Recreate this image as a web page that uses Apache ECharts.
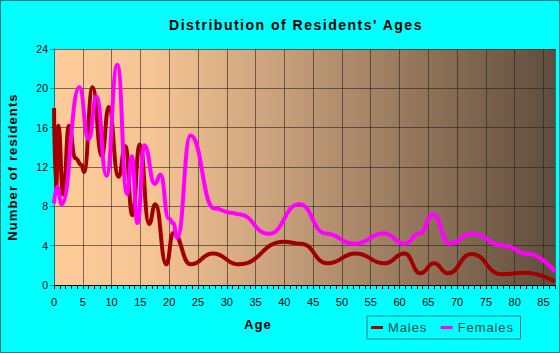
<!DOCTYPE html>
<html>
<head>
<meta charset="utf-8">
<script src="https://cdn.jsdelivr.net/npm/echarts@6/dist/echarts.min.js"></script>
<style>
html,body{margin:0;padding:0;background:#00FFFF;}
#chart{width:560px;height:353px;}
</style>
</head>
<body>
<div id="chart"></div>
<script>
// Data
const maleAge = [0, 0.35, 0.75, 1.6, 2.6, 3.7, 4.8, 5.2, 6.7, 8.3, 9.5, 11.2, 12.4, 13.6, 14.9, 16.5, 17.6, 19.5, 20.7, 23.7, 27.6, 32.1, 39.9, 42.9, 47.5, 52.4, 57.4, 60.9, 63.6, 66, 68.4, 72.5, 77.7, 81.8, 87];
const maleCount = [18, 9.5, 16.2, 9.2, 16.2, 12.9, 12.2, 11.5, 20.1, 13.1, 18.1, 11, 14.1, 7.1, 14.3, 6.2, 8.2, 2.1, 5.3, 2.1, 3.2, 2.1, 4.4, 4.2, 2.2, 3.2, 2.2, 3.2, 1.2, 2.2, 1.2, 3.15, 1.1, 1.25, 0.35];
const femaleAge = [0, 0.57, 1.34, 4.4, 6.0, 7.4, 9.1, 11.0, 12.7, 13.5, 14.5, 15.7, 17.5, 18.5, 19.9, 20.7, 21.4, 23.7, 27.8, 30.7, 32.1, 37.3, 42.6, 47.2, 52.1, 57.4, 60.9, 63.5, 65.8, 68.7, 72.5, 78.3, 82.1, 87];
const femaleCount = [8.3, 10, 8.2, 20.1, 14.8, 19.2, 11.1, 22.4, 9.25, 13.1, 6.3, 14.2, 10.3, 11.2, 6.8, 6.3, 4.8, 15.2, 7.8, 7.35, 7.2, 5.2, 8.2, 5.25, 4.2, 5.25, 4.2, 5.25, 7.2, 4.2, 5.2, 4, 3.2, 1.35];
const seriesNames = ['Males', 'Females'];
const titleText = "Distribution of Residents' Ages";
const xName = 'Age';
const yName = 'Number of residents';

const FONT = '"Liberation Sans", Arial, sans-serif';
const gridLine = 'rgba(40,35,30,0.6)';

const chart = echarts.init(document.getElementById('chart'), null, {renderer: 'svg'});
const option = {
  backgroundColor: '#00FFFF',
  animation: false,
  title: {
    text: titleText, left: 291, top: 13, textAlign: 'center',
    textStyle: {fontFamily: FONT, fontSize: 14, fontWeight: 'bold', color: '#000'}
  },
  legend: {
    data: seriesNames, left: 367, top: 316, orient: 'horizontal',
    padding: [4, 13, 4, 4], itemGap: 18, itemWidth: 12, itemHeight: 3, icon: 'rect',
    borderColor: '#008080', borderWidth: 1,
    textStyle: {fontFamily: FONT, fontSize: 13, color: '#0d4a4a', lineHeight: 15}
  },
  graphic: [{
    type: 'rect', shape: {x: 0.5, y: 0.5, width: 559, height: 352},
    style: {fill: 'none', stroke: '#008080', lineWidth: 1}, z: 100, silent: true
  }],
  grid: {
    left: 54, right: 5, top: 49, bottom: 68, show: true, borderWidth: 0,
    containLabel: false, outerBoundsMode: 'none',
    backgroundColor: {
      type: 'linear', x: 0, y: 0, x2: 1, y2: 0,
      colorStops: [
        {offset: 0, color: '#FFCC99'},
        {offset: 0.2, color: '#F5C493'},
        {offset: 0.45, color: '#C8A07C'},
        {offset: 0.7, color: '#98795D'},
        {offset: 1, color: '#5E4D3D'}
      ]
    }
  },
  xAxis: [{
    type: 'value', min: 0, max: 87, interval: 5,
    axisLine: {show: true, lineStyle: {color: '#000', width: 1}},
    axisTick: {show: false},
    axisLabel: {margin: 11, fontFamily: FONT, fontSize: 11, color: '#000', showMaxLabel: false},
    splitLine: {show: true, lineStyle: {color: gridLine, width: 1}},
    name: xName, nameLocation: 'middle', nameGap: 33,
    nameTextStyle: {fontFamily: FONT, fontSize: 13, fontWeight: 'bold', color: '#000', padding: [0, 93, 0, 0]}
  }, {
    type: 'value', min: 0, max: 87, interval: 1, position: 'bottom',
    axisLine: {show: false},
    axisTick: {show: true, length: 4, lineStyle: {color: '#000'}},
    axisLabel: {show: false},
    splitLine: {show: false}
  }],
  yAxis: {
    type: 'value', min: 0, max: 24, interval: 4,
    axisLine: {show: true, lineStyle: {color: '#008080', width: 1}},
    axisTick: {show: true, length: 4, lineStyle: {color: '#008080'}},
    axisLabel: {margin: 6, fontFamily: FONT, fontSize: 10.5, color: '#000'},
    splitLine: {show: true, lineStyle: {color: gridLine, width: 1}},
    name: yName, nameLocation: 'middle', nameGap: 35,
    nameTextStyle: {fontFamily: FONT, fontSize: 13, fontWeight: 'bold', color: '#000'}
  },
  series: [{
    name: seriesNames[0], type: 'line', smooth: 0.5, smoothMonotone: 'x',
    showSymbol: false, symbol: 'none',
    data: maleAge.map((a, i) => [a, maleCount[i]]),
    lineStyle: {color: '#A00000', width: 4},
    itemStyle: {color: '#A00000'}
  }, {
    name: seriesNames[1], type: 'line', smooth: 0.5, smoothMonotone: 'x',
    showSymbol: false, symbol: 'none',
    data: femaleAge.map((a, i) => [a, femaleCount[i]]),
    lineStyle: {color: '#FF00FF', width: 4},
    itemStyle: {color: '#FF00FF'}
  }]
};
chart.setOption(option);

function spaceText() {
  document.querySelectorAll('#chart svg text').forEach(t => {
    const s = t.textContent;
    if (s === titleText) t.style.letterSpacing = '1.5px';
    else if (s === yName || s === xName) t.style.letterSpacing = '1.1px';
    else if (seriesNames.indexOf(s) >= 0) t.style.letterSpacing = '0.9px';
  });
}
chart.on('finished', spaceText);
spaceText();
setTimeout(spaceText, 30);
</script>
</body>
</html>
